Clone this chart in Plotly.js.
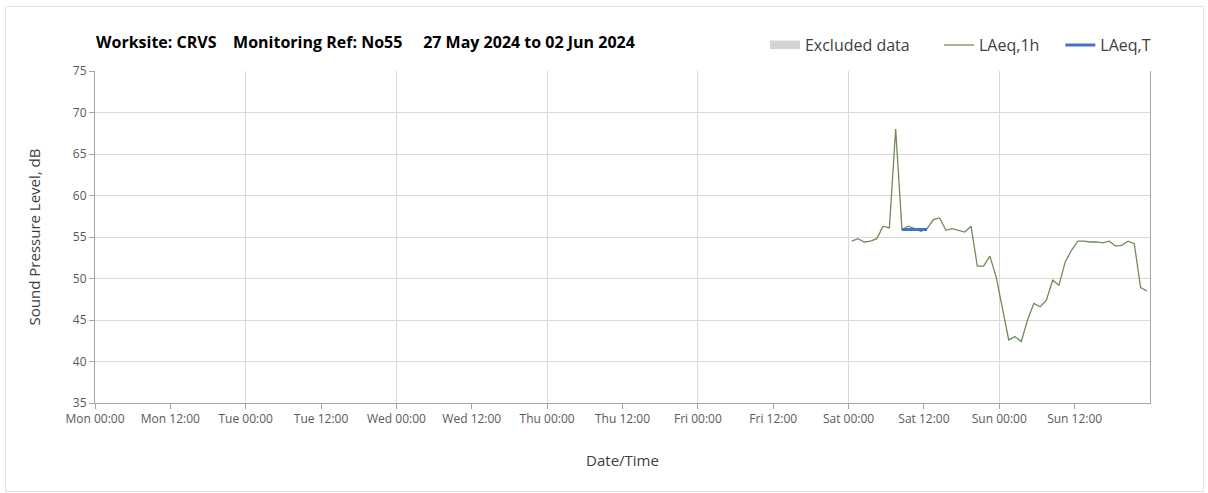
<!DOCTYPE html>
<html>
<head>
<meta charset="utf-8">
<script src="https://cdn.plot.ly/plotly-3.0.1.min.js"></script>
<style>
  html, body { margin: 0; padding: 0; background: #ffffff; }
  #wrap { position: relative; width: 1208px; height: 493px; }
  #chart { width: 1208px; height: 493px; }
  #frame { position: absolute; left: 5px; top: 6px; width: 1197px; height: 484px; border: 1px solid #e3e3e3; pointer-events: none; }
</style>
</head>
<body>
<div id="wrap">
  <div id="chart"></div>
  <div id="frame"></div>
</div>
<script>
// ---- data ----
const laeq1hTimes = [
  '2024-06-01 00:30','2024-06-01 01:30','2024-06-01 02:30','2024-06-01 03:30','2024-06-01 04:30','2024-06-01 05:30',
  '2024-06-01 06:30','2024-06-01 07:30','2024-06-01 08:30','2024-06-01 09:30','2024-06-01 10:30','2024-06-01 11:30',
  '2024-06-01 12:30','2024-06-01 13:30','2024-06-01 14:30','2024-06-01 15:30','2024-06-01 16:30','2024-06-01 17:30',
  '2024-06-01 18:30','2024-06-01 19:30','2024-06-01 20:30','2024-06-01 21:30','2024-06-01 22:30','2024-06-01 23:30',
  '2024-06-02 00:30','2024-06-02 01:30','2024-06-02 02:30','2024-06-02 03:30','2024-06-02 04:30','2024-06-02 05:30',
  '2024-06-02 06:30','2024-06-02 07:30','2024-06-02 08:30','2024-06-02 09:30','2024-06-02 10:30','2024-06-02 11:30',
  '2024-06-02 12:30','2024-06-02 13:30','2024-06-02 14:30','2024-06-02 15:30','2024-06-02 16:30','2024-06-02 17:30',
  '2024-06-02 18:30','2024-06-02 19:30','2024-06-02 20:30','2024-06-02 21:30','2024-06-02 22:30','2024-06-02 23:30'
];
const laeq1hValues = [
  54.5, 54.8, 54.4, 54.5, 54.8, 56.3,
  56.1, 68.0, 55.9, 56.3, 56.0, 55.7,
  56.0, 57.1, 57.3, 55.8, 56.0, 55.8,
  55.6, 56.3, 51.5, 51.5, 52.7, 50.2,
  46.5, 42.6, 43.0, 42.4, 45.0, 47.0,
  46.6, 47.4, 49.8, 49.2, 52.0, 53.4,
  54.5, 54.5, 54.4, 54.4, 54.3, 54.5,
  53.9, 54.0, 54.5, 54.2, 48.9, 48.5
];
const laeqTTimes = ['2024-06-01 08:30','2024-06-01 09:30','2024-06-01 10:30','2024-06-01 11:30','2024-06-01 12:30'];
const laeqTValues = [55.9, 55.9, 55.9, 55.9, 55.9];
// no excluded periods in this week (a single empty entry keeps the legend item)
const excludedTimes = [null];
const excludedValues = [null];

const tickTimes = [
  '2024-05-27 00:00','2024-05-27 12:00','2024-05-28 00:00','2024-05-28 12:00','2024-05-29 00:00','2024-05-29 12:00',
  '2024-05-30 00:00','2024-05-30 12:00','2024-05-31 00:00','2024-05-31 12:00','2024-06-01 00:00','2024-06-01 12:00',
  '2024-06-02 00:00','2024-06-02 12:00'
];
const tickLabels = [
  'Mon 00:00','Mon 12:00','Tue 00:00','Tue 12:00','Wed 00:00','Wed 12:00',
  'Thu 00:00','Thu 12:00','Fri 00:00','Fri 12:00','Sat 00:00','Sat 12:00',
  'Sun 00:00','Sun 12:00'
];
const yTicks = [35, 40, 45, 50, 55, 60, 65, 70, 75];
const xRange = ['2024-05-27 00:00', '2024-06-03 00:00'];
const titleText = 'Worksite: CRVS\u00a0\u00a0\u00a0 Monitoring Ref: No55\u00a0\u00a0\u00a0\u00a0 27 May 2024 to 02 Jun 2024';

// ---- chart ----
const FONT = '"Open Sans", "Noto Sans", sans-serif';
const traces = [
  {
    type: 'scatter', mode: 'lines', fill: 'toself', fillcolor: '#d4d4d4', name: 'Excluded data',
    line: { color: '#d4d4d4', width: 5 },
    x: excludedTimes, y: excludedValues, xaxis: 'x2', legend: 'legend', showlegend: true, hoverinfo: 'skip'
  },
  {
    type: 'scatter', mode: 'lines', name: 'LAeq,1h', x: laeq1hTimes, y: laeq1hValues,
    line: { color: '#6f8c5a', width: 1.3 }, legend: 'legend2'
  },
  {
    type: 'scatter', mode: 'lines', name: 'LAeq,T', x: laeqTTimes, y: laeqTValues,
    line: { color: '#4472c4', width: 3 }, legend: 'legend3'
  }
];

const legendBase = {
  orientation: 'h', yanchor: 'middle', y: 1.078, xanchor: 'left',
  font: { family: FONT, size: 16, color: '#404040' }, bgcolor: 'rgba(0,0,0,0)', borderwidth: 0
};

const layout = {
  width: 1208, height: 493,
  margin: { l: 95, r: 58, t: 71, b: 90 },
  paper_bgcolor: '#ffffff', plot_bgcolor: '#ffffff',
  font: { family: FONT, color: '#404040' },
  showlegend: true,
  legend: Object.assign({}, legendBase, { x: 0.635 }),
  legend2: Object.assign({}, legendBase, { x: 0.8 }),
  legend3: Object.assign({}, legendBase, { x: 0.915 }),
  xaxis: {
    type: 'date', range: xRange,
    tickmode: 'array', tickvals: tickTimes, ticktext: tickLabels,
    showgrid: false, zeroline: false,
    showline: true, linecolor: '#a6a6a6', linewidth: 1,
    ticks: 'outside', ticklen: 5, tickcolor: '#a6a6a6',
    tickfont: { family: FONT, size: 12, color: '#595959' },
    title: { text: 'Date/Time', font: { family: FONT, size: 15, color: '#404040' }, standoff: 29 }
  },
  xaxis2: {
    type: 'date', range: xRange, overlaying: 'x', matches: 'x',
    tickmode: 'linear', tick0: '2024-05-27 00:00', dtick: 86400000,
    showgrid: true, gridcolor: '#d9d9d9', gridwidth: 1,
    showticklabels: false, ticks: '', showline: false, zeroline: false
  },
  yaxis: {
    range: [35, 75], tickmode: 'array', tickvals: yTicks,
    showgrid: true, gridcolor: '#d9d9d9', gridwidth: 1, zeroline: false,
    showline: true, linecolor: '#a6a6a6', linewidth: 1, mirror: true,
    ticks: 'outside', ticklen: 5, tickcolor: '#a6a6a6',
    tickfont: { family: FONT, size: 12, color: '#595959' },
    title: { text: 'Sound Pressure Level, dB', font: { family: FONT, size: 15, color: '#404040' }, standoff: 28 }
  },
  annotations: [
    {
      text: '<b>' + titleText + '</b>', xref: 'paper', yref: 'paper', x: -0.001, y: 1.088,
      xanchor: 'left', yanchor: 'middle', showarrow: false,
      font: { family: FONT, size: 16, color: '#000000' }
    }
  ]
};

Plotly.newPlot('chart', traces, layout, { displayModeBar: false, staticPlot: true });
</script>
</body>
</html>
